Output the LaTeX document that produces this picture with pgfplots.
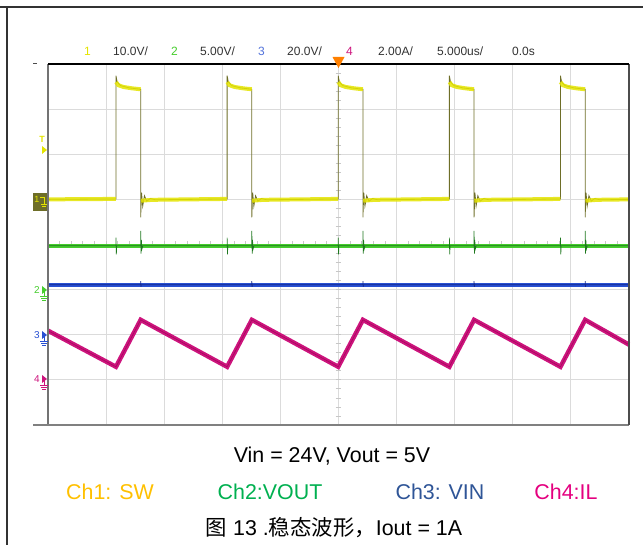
\documentclass[border=0pt]{standalone}
\usepackage{pgfplots}
\pgfplotsset{compat=1.18}
\usepackage{fontspec}
\setmainfont{Liberation Sans}
\newfontfamily\cjk{Noto Sans CJK SC}

\definecolor{swy}{RGB}{228,228,0}
\definecolor{swo}{RGB}{110,110,40}
\definecolor{vog}{RGB}{70,205,45}
\definecolor{vogd}{RGB}{30,120,30}
\definecolor{vib}{RGB}{40,80,210}
\definecolor{vibd}{RGB}{20,40,140}
\definecolor{ilm}{RGB}{205,20,125}
\definecolor{ilmd}{RGB}{140,0,70}
\definecolor{capy}{RGB}{255,192,0}
\definecolor{capg}{RGB}{0,176,80}
\definecolor{capb}{RGB}{47,85,151}
\definecolor{capm}{RGB}{228,0,127}
\definecolor{hdr}{RGB}{50,50,50}

\begin{document}
\begin{tikzpicture}[x=1bp,y=1bp]
\useasboundingbox (0,0) rectangle (643,545);
% outer frame of the table cell
\draw[line width=1.5bp, black!80] (0,538) -- (643,538);
\draw[line width=1.5bp, black!80] (7,538) -- (7,0);

\begin{axis}[
  at={(48bp,120bp)}, anchor=south west,
  width=581bp, height=361bp, scale only axis,
  xmin=0, xmax=10, ymin=0, ymax=8,
  xtick={1,...,9}, ytick={1,...,7},
  xticklabels={}, yticklabels={},
  major tick length=0pt,
  grid=major, grid style={draw=black!14, line width=1bp},
  axis line style={draw=none},
  clip=false, unbounded coords=jump,
]
% centre graticule ticks
\pgfplotsinvokeforeach{0,...,50}{\draw[black!22, line width=0.8bp] (axis cs:#1/5,3.93) -- (axis cs:#1/5,4.07);}
\pgfplotsinvokeforeach{0,...,40}{\draw[black!22, line width=0.8bp] (axis cs:4.95,#1/5) -- (axis cs:5.05,#1/5);}

% Ch3 VIN
\addplot[vib, line width=4bp] coordinates {(0,3.11) (10,3.11)};
\addplot[vibd, line width=0.7bp] coordinates {
 (0,3.11) (1.595,3.11) (1.595,3.19) (1.6,3.06) (1.605,3.11)
 (3.508,3.11) (3.508,3.19) (3.513,3.06) (3.518,3.11)
 (5.42,3.11) (5.42,3.19) (5.425,3.06) (5.43,3.11)
 (7.333,3.11) (7.333,3.19) (7.338,3.06) (7.343,3.11)
 (9.245,3.11) (9.245,3.19) (9.25,3.06) (9.255,3.11) (10,3.11)};

% Ch2 VOUT
\addplot[vog, line width=4bp] coordinates {(0,3.97) (10,3.97)};
\addplot[vogd, line width=0.7bp] coordinates {
 (0,3.97)
 (1.17,3.97) (1.17,4.15) (1.176,3.78) (1.182,3.97)
 (1.595,3.97) (1.595,4.3) (1.601,3.8) (1.607,4.1) (1.617,3.9) (1.632,3.97)
 (3.083,3.97) (3.083,4.15) (3.089,3.78) (3.095,3.97)
 (3.508,3.97) (3.508,4.3) (3.514,3.8) (3.52,4.1) (3.53,3.9) (3.545,3.97)
 (4.995,3.97) (4.995,4.15) (5.001,3.78) (5.007,3.97)
 (5.42,3.97) (5.42,4.3) (5.426,3.8) (5.432,4.1) (5.442,3.9) (5.457,3.97)
 (6.908,3.97) (6.908,4.15) (6.914,3.78) (6.92,3.97)
 (7.333,3.97) (7.333,4.3) (7.339,3.8) (7.345,4.1) (7.355,3.9) (7.37,3.97)
 (8.82,3.97) (8.82,4.15) (8.826,3.78) (8.832,3.97)
 (9.245,3.97) (9.245,4.3) (9.251,3.8) (9.257,4.1) (9.267,3.9) (9.282,3.97)
 (10,3.97)};

% Ch4 IL
\addplot[ilm, line width=4.5bp, line join=miter] coordinates {
 (0,2.09) (1.17,1.29) (1.595,2.33) (3.083,1.29) (3.508,2.33)
 (4.995,1.29) (5.42,2.33) (6.908,1.29) (7.333,2.33) (8.82,1.29)
 (9.245,2.33) (10,1.78)};
\addplot[ilmd, line width=0.6bp, opacity=0.6] coordinates {
 (0,2.09) (1.17,1.29) (1.595,2.33) (3.083,1.29) (3.508,2.33)
 (4.995,1.29) (5.42,2.33) (6.908,1.29) (7.333,2.33) (8.82,1.29)
 (9.245,2.33) (10,1.78)};

% Ch1 SW, thin trace with edges and ringing
\addplot[swo, line width=0.8bp] coordinates {
 (0,5.0) (1.17,5.01) (1.17,7.74) (1.19,7.6) (1.25,7.52) (1.4,7.47) (1.595,7.44)
 (1.595,4.6) (1.61,5.15) (1.63,4.85) (1.66,5.08) (1.7,4.96) (1.76,5.02) (1.85,4.99)
 (3.083,5.01) (3.083,7.74) (3.103,7.6) (3.163,7.52) (3.313,7.47) (3.508,7.44)
 (3.508,4.6) (3.523,5.15) (3.543,4.85) (3.573,5.08) (3.613,4.96) (3.673,5.02) (3.763,4.99)
 (4.995,5.01) (4.995,7.74) (5.015,7.6) (5.075,7.52) (5.225,7.47) (5.42,7.44)
 (5.42,4.6) (5.435,5.15) (5.455,4.85) (5.485,5.08) (5.525,4.96) (5.585,5.02) (5.675,4.99)
 (6.908,5.01) (6.908,7.74) (6.928,7.6) (6.988,7.52) (7.138,7.47) (7.333,7.44)
 (7.333,4.6) (7.348,5.15) (7.368,4.85) (7.398,5.08) (7.438,4.96) (7.498,5.02) (7.588,4.99)
 (8.82,5.01) (8.82,7.74) (8.84,7.6) (8.9,7.52) (9.05,7.47) (9.245,7.44)
 (9.245,4.6) (9.26,5.15) (9.28,4.85) (9.31,5.08) (9.35,4.96) (9.41,5.02) (9.5,4.99)
 (10,5.0)};
% Ch1 SW, thick yellow flat parts on top
\addplot[swy, line width=4bp, opacity=0.85] coordinates {
 (0,5.0) (1.17,5.01) (1.17,nan)
 (1.172,7.6) (1.21,7.53) (1.3,7.49) (1.45,7.46) (1.595,7.44) (1.6,nan)
 (1.6,4.97) (1.8,4.99) (3.083,5.01) (3.09,nan)
 (3.085,7.6) (3.123,7.53) (3.213,7.49) (3.363,7.46) (3.508,7.44) (3.51,nan)
 (3.513,4.97) (3.713,4.99) (4.995,5.01) (5.0,nan)
 (4.997,7.6) (5.035,7.53) (5.125,7.49) (5.275,7.46) (5.42,7.44) (5.43,nan)
 (5.425,4.97) (5.625,4.99) (6.908,5.01) (6.91,nan)
 (6.91,7.6) (6.948,7.53) (7.038,7.49) (7.188,7.46) (7.333,7.44) (7.34,nan)
 (7.338,4.97) (7.538,4.99) (8.82,5.01) (8.83,nan)
 (8.822,7.6) (8.86,7.53) (8.95,7.49) (9.1,7.46) (9.245,7.44) (9.25,nan)
 (9.25,4.97) (9.45,4.99) (10,5.0)};
\end{axis}

% plot frame
\draw[line width=1.5bp, black!55] (48,120) -- (48,481);
\draw[line width=1.5bp, black!50] (33,120) -- (629,120);
\draw[line width=1.5bp, black!70] (629,120) -- (629,481);
\draw[line width=1.2bp, black] (48,481) -- (629,481);
\draw[line width=1bp, black!70] (33,481) -- (37,481);

% trigger marker
\fill[orange] (332.5,488) -- (344.5,488) -- (338.5,477) -- cycle;

% channel markers
\node[swy, font=\fontsize{9bp}{10bp}\selectfont\bfseries] at (42,406) {T};
\fill[swy] (42,399) -- (42,391) -- (47,395) -- cycle;
\fill[swo] (33,334) rectangle (47,352);
\node[swy, font=\fontsize{9bp}{10bp}\selectfont] at (37,346) {1};
\draw[swy, line width=0.8bp] (40,348) -- (44,348) -- (44,341) (41,341) -- (47,341) (42,339) -- (46,339);
\node[vog, font=\fontsize{10bp}{11bp}\selectfont] at (37,255) {2};
\fill[vog] (42,259) -- (42,251) -- (47,255) -- cycle;
\draw[vog, line width=0.8bp] (44,255) -- (44,249) (40,249) -- (48,249) (41,247) -- (47,247) (42,245) -- (46,245);
\node[vib, font=\fontsize{10bp}{11bp}\selectfont] at (37,210) {3};
\fill[vib] (42,214) -- (42,206) -- (47,210) -- cycle;
\draw[vib, line width=0.8bp] (44,210) -- (44,204) (40,204) -- (48,204) (41,202) -- (47,202) (42,200) -- (46,200);
\node[ilm, font=\fontsize{10bp}{11bp}\selectfont] at (37,166) {4};
\fill[ilm] (42,170) -- (42,162) -- (47,166) -- cycle;
\draw[ilm, line width=0.8bp] (44,166) -- (44,160) (40,160) -- (48,160) (41,158) -- (47,158) (42,156) -- (46,156);

% scope header
\begin{scope}[every node/.style={font=\fontsize{12bp}{14bp}\selectfont, anchor=base west, inner sep=0pt}]
\node[swy] at (84,489) {1};
\node[hdr] at (113,489) {10.0V/};
\node[vog] at (171,489) {2};
\node[hdr] at (200,489) {5.00V/};
\node[vib!80] at (258,489) {3};
\node[hdr] at (287,489) {20.0V/};
\node[ilm] at (346,489) {4};
\node[hdr] at (378,489) {2.00A/};
\node[hdr] at (437,489) {5.000us/};
\node[hdr] at (512,489) {0.0s};
\end{scope}

% captions
\begin{scope}[every node/.style={font=\fontsize{21.4bp}{24bp}\selectfont, inner sep=0pt}]
\node[black] at (332,89) {Vin = 24V, Vout = 5V};
\node[capy] at (110,53) {Ch1: SW};
\node[capg] at (270,53) {Ch2:VOUT};
\node[capb] at (440,53) {Ch3: VIN};
\node[capm] at (566,53) {Ch4:IL};
\node[black] at (334,17) {{\cjk 图} 13 .{\cjk 稳态波形，}Iout = 1A};
\end{scope}
\end{tikzpicture}
\end{document}
